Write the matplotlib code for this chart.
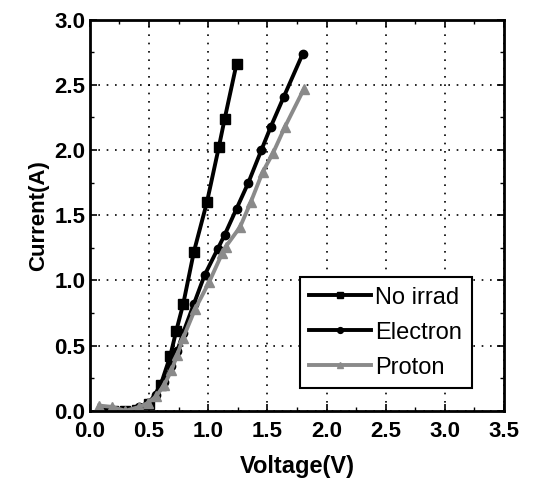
import numpy as np
import matplotlib.pyplot as plt
from matplotlib.ticker import MultipleLocator

# I-V curves
v_noirr = [0.10, 0.20, 0.30, 0.40, 0.50, 0.60, 0.68, 0.73, 0.79, 0.88, 0.99, 1.09, 1.14, 1.24]
i_noirr = [0.00, 0.00, 0.00, 0.01, 0.05, 0.20, 0.42, 0.61, 0.82, 1.22, 1.60, 2.02, 2.24, 2.66]

v_elec = [0.10, 0.20, 0.30, 0.42, 0.49, 0.56, 0.63, 0.69, 0.74, 0.79, 0.88, 0.97, 1.08, 1.14, 1.24, 1.34, 1.45, 1.53, 1.64, 1.80]
i_elec = [0.00, 0.00, 0.00, 0.03, 0.06, 0.12, 0.22, 0.34, 0.46, 0.60, 0.82, 1.04, 1.24, 1.35, 1.55, 1.75, 2.00, 2.18, 2.41, 2.74]

v_prot = [0.08, 0.19, 0.30, 0.42, 0.49, 0.56, 0.63, 0.69, 0.74, 0.79, 0.89, 1.01, 1.12, 1.15, 1.27, 1.36, 1.46, 1.55, 1.65, 1.81]
i_prot = [0.04, 0.03, 0.00, 0.03, 0.06, 0.11, 0.20, 0.31, 0.43, 0.56, 0.78, 0.99, 1.21, 1.26, 1.41, 1.60, 1.83, 1.98, 2.18, 2.47]

plt.rcParams['font.family'] = ['Liberation Sans', 'DejaVu Sans']

fig = plt.figure(figsize=(5.34, 4.92), dpi=100)
ax = fig.add_axes([0.168, 0.165, 0.776, 0.795])

ax.plot(v_noirr, i_noirr, color='black', lw=2.8, marker='s', ms=7, label='No irrad')
ax.plot(v_elec, i_elec, color='black', lw=2.8, marker='o', ms=6, label='Electron')
ax.plot(v_prot, i_prot, color='#8a8a8a', lw=2.8, marker='^', ms=7, label='Proton')

ax.set_xlim(0, 3.5)
ax.set_ylim(0, 3.0)
ax.xaxis.set_major_locator(MultipleLocator(0.5))
ax.xaxis.set_minor_locator(MultipleLocator(0.25))
ax.yaxis.set_major_locator(MultipleLocator(0.5))
ax.yaxis.set_minor_locator(MultipleLocator(0.25))
ax.grid(True, which='major', color='black', linestyle=(0, (1, 4)), lw=1.2)
ax.tick_params(which='both', direction='in', top=True, right=True)
ax.tick_params(which='major', length=5, width=1.2, labelsize=16, pad=3)
ax.tick_params(axis='x', which='major', pad=7)
ax.tick_params(which='minor', length=3, width=1)
for lab in ax.get_xticklabels() + ax.get_yticklabels():
    lab.set_fontweight('bold')
for sp in ax.spines.values():
    sp.set_linewidth(2)

ax.set_xlabel('Voltage(V)', fontsize=17, fontweight='bold', labelpad=10)
ax.set_ylabel('Current(A)', fontsize=16, fontweight='bold', labelpad=4)

leg = ax.legend(loc='lower right', bbox_to_anchor=(0.922, 0.058),
                prop={'size': 17},
                fancybox=False, edgecolor='black', framealpha=1, markerscale=0.7,
                handlelength=2.6, handletextpad=0.2, borderpad=0.4, labelspacing=0.55,
                borderaxespad=0)
leg.get_frame().set_linewidth(1.5)

plt.savefig('out.png', dpi=100)
